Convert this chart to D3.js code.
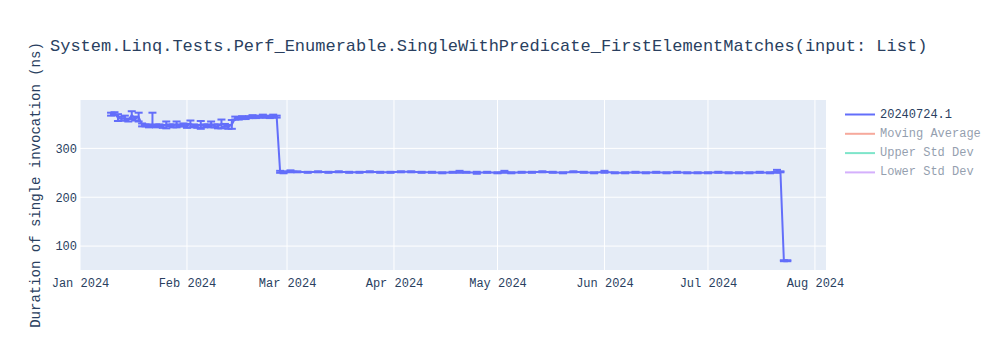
<!DOCTYPE html>
<html>
<head>
<meta charset="utf-8">
<script src="https://cdn.jsdelivr.net/npm/d3@7"></script>
<style>
  html, body { margin: 0; padding: 0; background: #fff; }
  svg { display: block; }
  text { font-family: "Liberation Mono", "Courier New", monospace; }
</style>
</head>
<body>
<svg id="chart" width="1000" height="350"></svg>
<script>
const chartTitle = "System.Linq.Tests.Perf_Enumerable.SingleWithPredicate_FirstElementMatches(input: List)";
const yTitle = "Duration of single invocation (ns)";
const seriesNames = ["20240724.1", "Moving Average", "Upper Std Dev", "Lower Std Dev"];
const seriesColors = ["#636efa", "#EF553B", "#00cc96", "#ab63fa"];
const yTicks = [100, 200, 300];

const dates = [
  "2024-01-10","2024-01-11","2024-01-12","2024-01-13","2024-01-14","2024-01-15","2024-01-16","2024-01-17","2024-01-18",
  "2024-01-19","2024-01-20","2024-01-21","2024-01-22","2024-01-23","2024-01-24","2024-01-25","2024-01-26","2024-01-27",
  "2024-01-28","2024-01-29","2024-01-30","2024-01-31","2024-02-01","2024-02-02","2024-02-03","2024-02-04","2024-02-05",
  "2024-02-06","2024-02-07","2024-02-08","2024-02-09","2024-02-10","2024-02-11","2024-02-12","2024-02-13","2024-02-14",
  "2024-02-15","2024-02-16","2024-02-17","2024-02-18","2024-02-19","2024-02-20","2024-02-21","2024-02-22","2024-02-23",
  "2024-02-24","2024-02-25","2024-02-26","2024-02-27","2024-02-28",
  "2024-02-29","2024-03-02","2024-03-04","2024-03-07","2024-03-10","2024-03-13","2024-03-16","2024-03-19","2024-03-22",
  "2024-03-25","2024-03-28","2024-03-31","2024-04-03","2024-04-06","2024-04-09","2024-04-12","2024-04-15","2024-04-18",
  "2024-04-20","2024-04-22","2024-04-25","2024-04-28","2024-05-01","2024-05-03","2024-05-05","2024-05-08","2024-05-11",
  "2024-05-14","2024-05-17","2024-05-20","2024-05-23","2024-05-26","2024-05-29","2024-06-01","2024-06-04","2024-06-07",
  "2024-06-10","2024-06-13","2024-06-16","2024-06-19","2024-06-22","2024-06-25","2024-06-28","2024-07-01","2024-07-04",
  "2024-07-07","2024-07-10","2024-07-13","2024-07-16","2024-07-19","2024-07-21","2024-07-22","2024-07-23","2024-07-24"
];
const values = [
  370,371,363,361,362,358,368,361,364,
  348,347,346,347,346,347,345,348,347,
  346,349,347,348,346,350,347,345,348,
  346,347,349,346,345,350,347,344,349,
  362,361,363,362,364,365,364,365,366,
  365,364,366,365,252,
  251,253,252,251,252,251,252,251,251,
  252,251,251,252,252,251,251,250,251,
  252,251,250,251,250,252,250,251,251,
  252,251,250,252,251,250,252,250,250,
  251,250,251,250,251,250,250,250,251,
  250,250,250,251,250,253,252,70,70
];
const errorsUp = [
  3,3,7,4,5,3,8,4,9,
  3,2,3,26,3,2,3,7,2,
  3,6,2,3,4,7,2,3,8,
  3,2,6,3,4,9,3,4,9,
  3,2,3,2,2,3,2,2,3,
  2,2,3,2,2,
  2,2,1,1,1,1,1,1,1,
  1,1,1,1,1,1,1,1,1,
  2,1,2,1,1,2,1,1,1,
  1,1,1,1,1,1,2,1,1,
  1,1,1,1,1,1,1,1,1,
  1,1,1,1,1,3,1,1,1
];
const errorsDown = [
  3,3,7,4,5,3,8,4,9,
  3,2,3,3,3,2,3,7,2,
  3,6,2,3,4,7,2,3,8,
  3,2,6,3,4,9,3,4,9,
  3,2,3,2,2,3,2,2,3,
  2,2,3,2,2,
  2,2,1,1,1,1,1,1,1,
  1,1,1,1,1,1,1,1,1,
  2,1,2,1,1,2,1,1,1,
  1,1,1,1,1,1,2,1,1,
  1,1,1,1,1,1,1,1,1,
  1,1,1,1,1,3,1,1,1
];

const parse = d3.utcParse("%Y-%m-%d");
const data = dates.map((d, i) => ({ date: parse(d), value: values[i], up: errorsUp[i], down: errorsDown[i] }));

const svg = d3.select("#chart");
const L = 80, R = 826, T = 100, B = 270;
const text = "#2a3f5f";

const x = d3.scaleUtc()
  .domain([new Date(Date.UTC(2024, 0, 1)), new Date(Date.UTC(2024, 7, 4, 5))])
  .range([L, R]);
const y = d3.scaleLinear().domain([51, 399]).range([B, T]);

// background
svg.append("rect").attr("x", L).attr("y", T).attr("width", R - L).attr("height", B - T).attr("fill", "#E5ECF6");

// grid
const xTicks = d3.utcMonth.range(new Date(Date.UTC(2024, 0, 1)), new Date(Date.UTC(2024, 7, 2)));
svg.append("g").selectAll("line").data(xTicks).join("line")
  .attr("x1", d => x(d)).attr("x2", d => x(d)).attr("y1", T).attr("y2", B)
  .attr("stroke", "#fff").attr("stroke-width", 1);
svg.append("g").selectAll("line").data(yTicks).join("line")
  .attr("x1", L).attr("x2", R).attr("y1", d => y(d)).attr("y2", d => y(d))
  .attr("stroke", "#fff").attr("stroke-width", 1);

// axes
const xAxis = d3.axisBottom(x).tickValues(xTicks).tickFormat(d3.utcFormat("%b %Y")).tickSize(0).tickPadding(8);
const gx = svg.append("g").attr("transform", `translate(0,${B})`).call(xAxis);
gx.select(".domain").remove();
gx.selectAll("text").attr("fill", text).style("font-size", "12px").style("font-family", '"Liberation Mono", monospace');

const yAxis = d3.axisLeft(y).tickValues(yTicks).tickSize(0).tickPadding(3);
const gy = svg.append("g").attr("transform", `translate(${L},0)`).call(yAxis);
gy.select(".domain").remove();
gy.selectAll("text").attr("fill", text).style("font-size", "12px").style("font-family", '"Liberation Mono", monospace');

// clip
svg.append("clipPath").attr("id", "clip").append("rect")
  .attr("x", L).attr("y", T).attr("width", R - L).attr("height", B - T);
const plot = svg.append("g").attr("clip-path", "url(#clip)");

const color = seriesColors[0];
// error bars
const eb = plot.append("g").attr("stroke", color).attr("stroke-width", 2).attr("fill", "none");
data.forEach(d => {
  const cx = x(d.date);
  const lo = y(d.value - d.down), hi = y(d.value + d.up);
  eb.append("line").attr("x1", cx).attr("x2", cx).attr("y1", lo).attr("y2", hi);
  eb.append("line").attr("x1", cx - 4).attr("x2", cx + 4).attr("y1", lo).attr("y2", lo);
  eb.append("line").attr("x1", cx - 4).attr("x2", cx + 4).attr("y1", hi).attr("y2", hi);
});
// line
const line = d3.line().x(d => x(d.date)).y(d => y(d.value));
plot.append("path").datum(data).attr("d", line)
  .attr("fill", "none").attr("stroke", color).attr("stroke-width", 2).attr("stroke-linejoin", "round");

// title
svg.append("text").attr("x", 50).attr("y", 51).text(chartTitle)
  .attr("fill", text).style("font-size", "17px");

// y title
svg.append("text").attr("transform", `translate(40,${(T + B) / 2}) rotate(-90)`)
  .attr("text-anchor", "middle")
  .text(yTitle).attr("fill", text).style("font-size", "14px");

// legend
const lg = svg.append("g");
seriesNames.forEach((name, i) => {
  const gy0 = 114.5 + i * 19.3;
  const g = lg.append("g").attr("opacity", i === 0 ? 1 : 0.5);
  g.append("line").attr("x1", 845).attr("x2", 875).attr("y1", gy0).attr("y2", gy0)
    .attr("stroke", seriesColors[i]).attr("stroke-width", 2);
  g.append("text").attr("x", 880).attr("y", gy0).attr("dominant-baseline", "central")
    .text(name).attr("fill", text).style("font-size", "12px");
});
</script>
</body>
</html>
